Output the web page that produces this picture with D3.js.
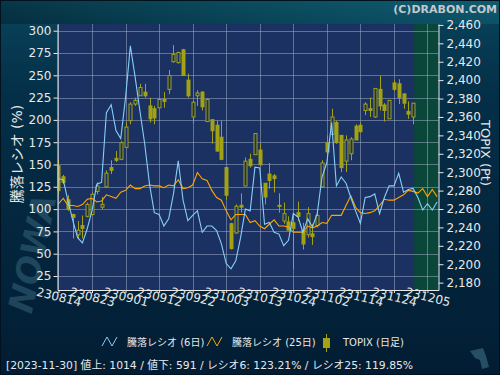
<!DOCTYPE html>
<html>
<head>
<meta charset="utf-8">
<script src="https://cdn.jsdelivr.net/npm/d3@7"></script>
<style>
body { margin: 0; background: #022036; }
text { font-family: "DejaVu Sans", "Noto Sans CJK JP", sans-serif; }
</style>
</head>
<body>
<div id="chart"></div>
<script>
var svgWidth = 500, svgHeight = 375;
var plot = { left: 57.5, right: 438.5, top: 24, bottom: 290 };

// trading days (yymmdd), last 5 are the projected days
var dates = ["230814","230815","230816","230817","230818","230821","230822","230823","230824","230825",
  "230828","230829","230830","230831","230901","230904","230905","230906","230907","230908",
  "230911","230912","230913","230914","230915","230919","230920","230921","230922","230925",
  "230926","230927","230928","230929","231002","231003","231004","231005","231006","231010",
  "231011","231012","231013","231016","231017","231018","231019","231020","231023","231024",
  "231025","231026","231027","231030","231031","231101","231102","231106","231107","231108",
  "231109","231110","231113","231114","231115","231116","231117","231120","231121","231122",
  "231124","231127","231128","231129","231130","231201","231204","231205","231206","231207"];
var tickIndex = [0, 7, 14, 21, 28, 35, 42, 49, 56, 63, 70, 77];
var lastIndex = 74;

// 騰落レシオ 6日 / 25日 (%)
var ratio6 = [134, 133, 109, 87, 68, 62, 78, 98, 128, 130,
  208, 217, 188, 179, 225, 283, 248, 210, 173, 128,
  96, 94, 81, 89, 117, 154, 110, 87, 93, 98,
  74, 81, 81, 76, 61, 39, 33, 42, 68, 100,
  98, 147, 146, 83, 85, 74, 72, 59, 65, 95,
  91, 74, 89, 80, 95, 136, 152, 197, 126, 136,
  129, 113, 98, 84, 113, 114, 117, 95, 113, 126,
  126, 140, 119, 122, 123.21, 113, 99, 106, 99, 108];
var ratio25 = [106, 112, 104, 104, 103, 105, 111, 112, 108, 109,
  116, 114, 112, 119, 121, 127, 123, 123, 126, 127,
  126, 126, 124, 127, 126, 133, 123, 124, 127, 141,
  134, 132, 121, 113, 110, 98, 88, 94, 94, 94,
  85, 87, 81, 78, 83, 88, 81, 81, 80, 74,
  74, 74, 81, 79, 81, 85, 84, 93, 93, 93,
  104, 115, 102, 96, 95, 96, 98, 104, 111, 110,
  110, 113, 116, 121, 119.85, 118, 123, 114, 122, 114];

// TOPIX daily OHLC (Pt)
var open  = [2307, 2295, 2270, 2254, 2232, 2242, 2252, 2254, 2279, 2262,
  2284, 2305, 2315, 2314, 2327, 2356, 2374, 2383, 2387, 2372,
  2369, 2370, 2379, 2390, 2420, 2419, 2433, 2400, 2360, 2383,
  2387, 2355, 2357, 2351, 2338, 2305, 2244, 2234, 2264, 2285,
  2314, 2319, 2324, 2288, 2298, 2296, 2264, 2247, 2246, 2245,
  2256, 2237, 2232, 2233, 2242, 2284, 2332, 2341, 2354, 2340,
  2312, 2320, 2350, 2351, 2367, 2369, 2360, 2390, 2373, 2358,
  2397, 2396, 2385, 2366, 2360];
var high  = [2314, 2297, 2275, 2255, 2247, 2253, 2267, 2278, 2289, 2273,
  2302, 2313, 2323, 2334, 2354, 2376, 2381, 2396, 2396, 2381,
  2372, 2381, 2387, 2411, 2438, 2431, 2434, 2407, 2378, 2389,
  2388, 2380, 2357, 2356, 2356, 2305, 2245, 2265, 2277, 2316,
  2320, 2342, 2331, 2288, 2310, 2298, 2277, 2267, 2252, 2256,
  2268, 2245, 2262, 2244, 2260, 2313, 2340, 2369, 2356, 2340,
  2340, 2338, 2352, 2354, 2376, 2381, 2391, 2405, 2375, 2378,
  2400, 2401, 2386, 2377, 2375];
var low   = [2276, 2287, 2258, 2228, 2228, 2228, 2251, 2253, 2276, 2260,
  2283, 2298, 2311, 2313, 2326, 2352, 2372, 2383, 2381, 2354,
  2352, 2370, 2370, 2385, 2419, 2418, 2405, 2381, 2353, 2372,
  2367, 2355, 2331, 2322, 2313, 2270, 2216, 2233, 2256, 2285,
  2305, 2319, 2307, 2265, 2282, 2278, 2256, 2244, 2237, 2195,
  2247, 2216, 2229, 2221, 2240, 2283, 2318, 2341, 2331, 2300,
  2300, 2313, 2335, 2343, 2362, 2360, 2359, 2367, 2355, 2358,
  2388, 2374, 2369, 2358, 2352];
var close = [2280, 2289, 2260, 2251, 2237, 2239, 2265, 2276, 2285, 2265,
  2299, 2302, 2313, 2332, 2349, 2374, 2378, 2392, 2383, 2358,
  2359, 2379, 2377, 2405, 2428, 2430, 2405, 2383, 2376, 2386,
  2371, 2379, 2345, 2323, 2314, 2275, 2217, 2263, 2262, 2312,
  2307, 2342, 2308, 2273, 2291, 2293, 2263, 2255, 2237, 2239,
  2252, 2222, 2255, 2230, 2253, 2310, 2322, 2360, 2332, 2305,
  2335, 2336, 2335, 2344, 2374, 2367, 2391, 2372, 2367, 2378,
  2390, 2381, 2375, 2363, 2375];

var leftTicks = [25, 50, 75, 100, 125, 150, 175, 200, 225, 250, 275, 300];
var rightTicks = [2180, 2200, 2220, 2240, 2260, 2280, 2300, 2320, 2340, 2360, 2380, 2400, 2420, 2440, 2460];

// 最終日の値
var lastDate = "2023-11-30", advances = 1014, declines = 591;

var svg = d3.select("#chart").append("svg")
    .attr("width", svgWidth)
    .attr("height", svgHeight);

var defs = svg.append("defs");
var bg = defs.append("linearGradient").attr("id", "bg")
    .attr("x1", 0).attr("y1", 0).attr("x2", 0).attr("y2", 1);
bg.append("stop").attr("offset", "0%").attr("stop-color", "#0b5064");
bg.append("stop").attr("offset", "7%").attr("stop-color", "#073f56");
bg.append("stop").attr("offset", "25%").attr("stop-color", "#042f48");
bg.append("stop").attr("offset", "100%").attr("stop-color", "#021d33");
var topGlow = defs.append("linearGradient").attr("id", "topGlow")
    .attr("x1", 0).attr("y1", 0).attr("x2", 1).attr("y2", 0);
topGlow.append("stop").attr("offset", "0%").attr("stop-color", "#000a14").attr("stop-opacity", 0.35);
topGlow.append("stop").attr("offset", "100%").attr("stop-color", "#1a8090").attr("stop-opacity", 0.25);
defs.append("clipPath").attr("id", "clip").append("rect")
    .attr("x", plot.left).attr("y", plot.top)
    .attr("width", plot.right - plot.left).attr("height", plot.bottom - plot.top);

svg.append("rect").attr("width", svgWidth).attr("height", svgHeight).attr("fill", "url(#bg)");
svg.append("rect").attr("width", svgWidth).attr("height", 24).attr("fill", "url(#topGlow)");
svg.append("rect").attr("x", 0.5).attr("y", 0.5).attr("width", svgWidth - 1).attr("height", svgHeight - 1)
    .attr("fill", "none").attr("stroke", "#01121e");

// 透かし
svg.append("text")
    .attr("transform", "translate(44,256) rotate(-78)")
    .attr("text-anchor", "middle")
    .style("font-size", "34px").style("font-weight", "bold").style("font-style", "italic")
    .attr("fill", "#4a7a8e").attr("opacity", 0.4)
    .text("NOWA");
svg.append("path")
    .attr("d", "M470,351 L483,348 L486,356 L489,367 L482,369 L480,360 L475,358 Z")
    .attr("fill", "#3d6f86").attr("opacity", 0.6);

// スケール
var x = d3.scaleLinear().domain([-0.2, 79.3]).range([plot.left, plot.right]);
var yL = d3.scaleLinear().domain([9.3, 307.5]).range([plot.bottom, plot.top]);
var yR = d3.scaleLinear().domain([2172, 2461]).range([plot.bottom, plot.top]);

// 背景
svg.append("rect")
    .attr("x", plot.left).attr("y", plot.top)
    .attr("width", plot.right - plot.left).attr("height", plot.bottom - plot.top)
    .attr("fill", "#1a3161");
svg.append("rect")
    .attr("x", x(lastIndex) + 1).attr("y", plot.top)
    .attr("width", plot.right - x(lastIndex) - 1).attr("height", plot.bottom - plot.top)
    .attr("fill", "#0a4639");

// グリッド
var grid = svg.append("g").attr("stroke", "#a4b2cc").attr("stroke-opacity", 0.5).attr("stroke-width", 1);
grid.selectAll(".hg").data(leftTicks).enter().append("line")
    .attr("x1", plot.left).attr("x2", plot.right)
    .attr("y1", function(d) { return Math.round(yL(d)) + 0.5; })
    .attr("y2", function(d) { return Math.round(yL(d)) + 0.5; });
grid.selectAll(".vg").data(tickIndex).enter().append("line")
    .attr("y1", plot.top).attr("y2", plot.bottom)
    .attr("x1", function(d) { return Math.round(x(d)) + 0.5; })
    .attr("x2", function(d) { return Math.round(x(d)) + 0.5; });

var inner = svg.append("g").attr("clip-path", "url(#clip)");

// ローソク足
var candleColor = "#a2a214";
var candles = inner.selectAll(".candle").data(open).enter().append("g").attr("class", "candle");
candles.append("line")
    .attr("x1", function(d, i) { return Math.round(x(i)) + 0.5; })
    .attr("x2", function(d, i) { return Math.round(x(i)) + 0.5; })
    .attr("y1", function(d, i) { return yR(high[i]); })
    .attr("y2", function(d, i) { return yR(low[i]); })
    .attr("stroke", candleColor);
candles.append("rect")
    .attr("x", function(d, i) { return Math.round(x(i)) - 1; })
    .attr("width", 3)
    .attr("y", function(d, i) { return yR(Math.max(open[i], close[i])); })
    .attr("height", function(d, i) { return Math.max(1, Math.abs(yR(open[i]) - yR(close[i]))); })
    .attr("fill", function(d, i) { return close[i] > open[i] ? "#1a3161" : candleColor; })
    .attr("stroke", candleColor);

// 騰落レシオ
var line = d3.line()
    .x(function(d, i) { return x(i); })
    .y(function(d) { return yL(d); });
inner.append("path").datum(ratio25)
    .attr("d", line).attr("fill", "none").attr("stroke", "#ffa500").attr("stroke-width", 1.1);
inner.append("path").datum(ratio6)
    .attr("d", line).attr("fill", "none").attr("stroke", "#87cefa").attr("stroke-width", 1.1);

// 軸
function styleAxis(g) {
    g.selectAll(".domain").attr("stroke", "#e8e8e8");
    g.selectAll(".tick line").attr("stroke", "#e8e8e8");
    g.selectAll(".tick text").attr("fill", "#e8e8e8").style("font-size", "12px");
}
svg.append("g")
    .attr("transform", "translate(" + plot.left + ",0)")
    .call(d3.axisLeft(yL).tickValues(leftTicks).tickSize(4).tickPadding(2).tickSizeOuter(0))
    .call(styleAxis);
svg.append("g")
    .attr("transform", "translate(" + plot.right + ",0)")
    .call(d3.axisRight(yR).tickValues(rightTicks).tickFormat(d3.format(",")).tickSize(5).tickPadding(3).tickSizeOuter(0))
    .call(styleAxis);
var xAxis = svg.append("g")
    .attr("transform", "translate(0," + plot.bottom + ")")
    .call(d3.axisBottom(x).tickValues(tickIndex).tickFormat(function(i) { return dates[i]; }).tickSize(3).tickSizeOuter(0))
    .call(styleAxis);
xAxis.selectAll(".tick text")
    .attr("y", 0).attr("dy", 0)
    .attr("text-anchor", "middle")
    .attr("transform", "translate(-1,11) rotate(14)");

// 軸タイトル
svg.append("text")
    .attr("transform", "translate(22,154) rotate(-90)")
    .attr("text-anchor", "middle")
    .attr("fill", "#e8e8e8").style("font-size", "14px")
    .text("騰落レシオ (%)");
svg.append("text")
    .attr("transform", "translate(481,153) rotate(90)")
    .attr("text-anchor", "middle")
    .attr("fill", "#e8e8e8").style("font-size", "13px")
    .text("TOPIX (Pt)");

svg.append("text")
    .attr("x", 497).attr("y", 13)
    .attr("text-anchor", "end")
    .attr("fill", "#c4c8cc").style("font-size", "11px").style("font-weight", "bold")
    .text("(C)DRABON.COM");

// 凡例
var legend = svg.append("g").style("font-size", "10px").attr("fill", "#e8e8e8");
var zig = "l5,-9 l5,9 l5,-9";
legend.append("path").attr("d", "M102,346 " + zig).attr("fill", "none").attr("stroke", "#87cefa");
legend.append("text").attr("x", 127).attr("y", 346).text("騰落レシオ (6日)");
legend.append("path").attr("d", "M207,346 " + zig).attr("fill", "none").attr("stroke", "#ffa500");
legend.append("text").attr("x", 232).attr("y", 346).text("騰落レシオ (25日)");
legend.append("line").attr("x1", 326.5).attr("x2", 326.5).attr("y1", 334).attr("y2", 352).attr("stroke", candleColor);
legend.append("rect").attr("x", 323.5).attr("y", 338.5).attr("width", 6).attr("height", 9)
    .attr("fill", candleColor).attr("stroke", candleColor);
legend.append("text").attr("x", 343).attr("y", 346).text("TOPIX (日足)");

// 最終日の値
svg.append("text")
    .attr("x", 6).attr("y", 369)
    .attr("fill", "#e8e8e8").style("font-size", "10.8px")
    .text("[" + lastDate + "]  値上: " + advances + " / 値下: " + declines +
          " / レシオ6: " + ratio6[lastIndex].toFixed(2) + "% / レシオ25: " + ratio25[lastIndex].toFixed(2) + "%");
</script>
</body>
</html>
